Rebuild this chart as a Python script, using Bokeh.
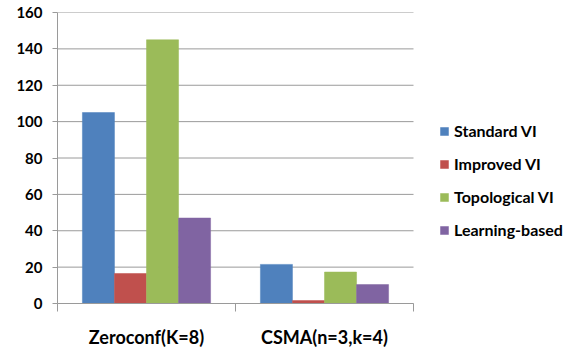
from bokeh.plotting import figure
from bokeh.models import ColumnDataSource, FixedTicker, Legend, LegendItem
from bokeh.embed import file_html
from bokeh.resources import INLINE

categories = ["Zeroconf(K=8)", "CSMA(n=3,k=4)"]
series = ["Standard VI", "Improved VI", "Topological VI", "Learning-based"]
standard_vi = [105, 21.5]
improved_vi = [16.5, 1.6]
topological_vi = [145, 17.3]
learning_based = [47, 10.4]
colors = ["#4F81BD", "#C0504D", "#9BBB59", "#8064A2"]
y_ticks = [0, 20, 40, 60, 80, 100, 120, 140, 160]

values = [standard_vi, improved_vi, topological_vi, learning_based]

FONT = "Lato"
GRID = "#9a9a9a"
n = len(categories)

# frame spans to the right edge; the legend sits in the blank part on the right
p = figure(width=576, height=350, output_backend="svg", toolbar_location=None,
           x_range=(0, n * 519 / 356), y_range=(0, 160),
           min_border_left=57, min_border_right=0, min_border_top=12, min_border_bottom=46)
p.outline_line_color = None
p.background_fill_color = "white"
p.border_fill_color = "white"

# grid lines limited to the category extent
p.segment(x0=[0] * len(y_ticks), x1=[n] * len(y_ticks), y0=y_ticks, y1=y_ticks,
          line_color=GRID, line_width=1)

bar_w = 0.18
renderers = []
for k, (name, vals, col) in enumerate(zip(series, values, colors)):
    xs = [i + 0.5 + (k - 1.5) * bar_w for i in range(n)]
    src = ColumnDataSource(dict(x=xs, top=vals))
    r = p.vbar(x="x", top="top", width=bar_w, bottom=0, source=src,
               fill_color=col, line_color=col, line_width=0.5)
    renderers.append((name, r))

# x axis
centers = [i + 0.5 for i in range(n)]
p.xaxis.ticker = FixedTicker(ticks=centers, minor_ticks=list(range(n + 1)))
p.xaxis.bounds = (0, n)
p.xaxis.major_label_overrides = {c: lab for c, lab in zip(centers, categories)}
p.xaxis.major_tick_out = 0
p.xaxis.major_tick_in = 0
p.xaxis.minor_tick_out = 8
p.xaxis.minor_tick_in = 0
p.xaxis.minor_tick_line_color = GRID
p.xaxis.axis_line_color = GRID
p.xaxis.major_label_text_font = FONT
p.xaxis.major_label_text_font_style = "bold"
p.xaxis.major_label_text_font_size = "18px"
p.xaxis.major_label_text_color = "black"
p.xaxis.major_label_standoff = 14

# y axis
p.yaxis.ticker = FixedTicker(ticks=y_ticks)
p.yaxis.major_tick_out = 5
p.yaxis.major_tick_in = 0
p.yaxis.minor_tick_out = 0
p.yaxis.minor_tick_in = 0
p.yaxis.major_tick_line_color = GRID
p.yaxis.axis_line_color = GRID
p.yaxis.major_label_text_font = FONT
p.yaxis.major_label_text_font_style = "bold"
p.yaxis.major_label_text_font_size = "15px"
p.yaxis.major_label_text_color = "black"
p.yaxis.major_label_standoff = 10

p.xgrid.grid_line_color = None
p.ygrid.grid_line_color = None

legend = Legend(items=[LegendItem(label=s, renderers=[r]) for s, r in renderers],
                location=(382, 64), orientation="vertical",
                glyph_width=10, glyph_height=10, label_standoff=5, spacing=14,
                padding=0, margin=0, border_line_color=None, background_fill_alpha=0,
                label_text_font=FONT, label_text_font_style="bold",
                label_text_font_size="16px", label_text_color="black")
p.add_layout(legend, "center")

open("out.html", "w").write(file_html(p, INLINE))
